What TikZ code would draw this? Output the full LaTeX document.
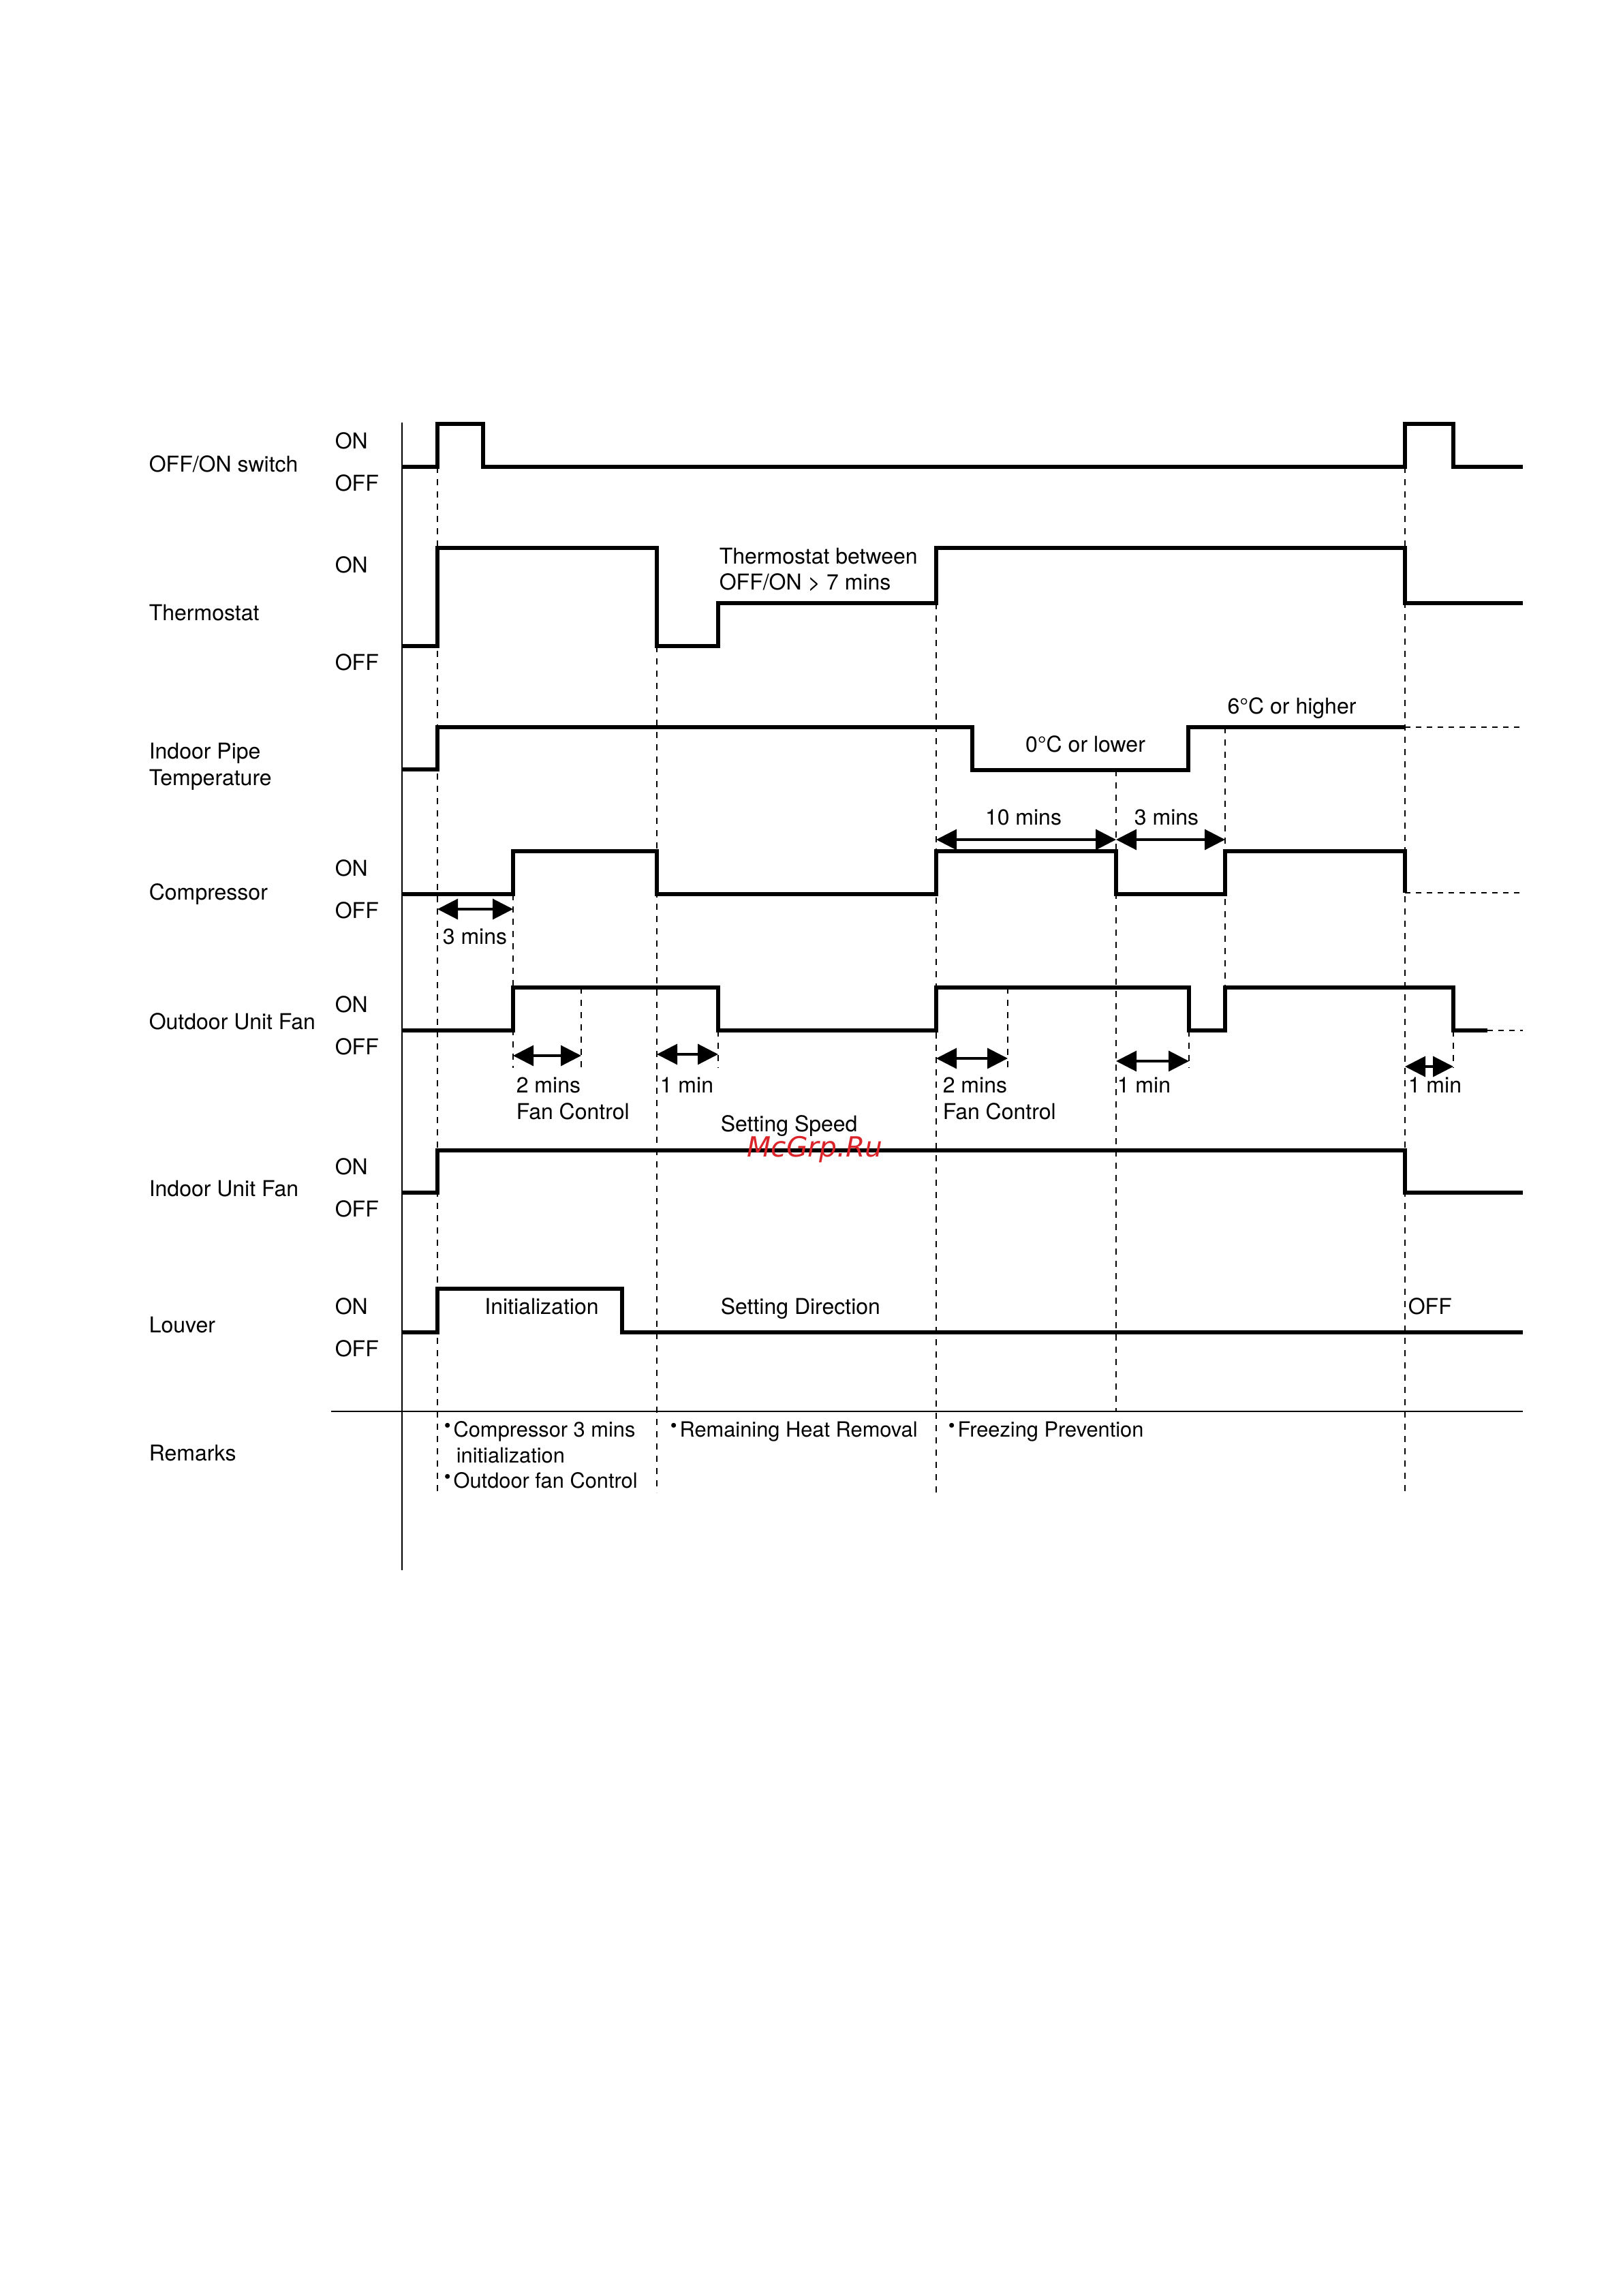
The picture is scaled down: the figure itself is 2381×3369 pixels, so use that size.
\documentclass[tikz,border=0pt]{standalone}
\usepackage{fontspec}
\setmainfont{TeX Gyre Heros}
\newfontfamily\markfont{DejaVu Sans}
\usepackage{tikz}
\usetikzlibrary{arrows.meta, positioning}
\definecolor{MarkRed}{RGB}{218,36,42}

\begin{document}
\begin{tikzpicture}[
    x=0.25pt, y=-0.25pt,
    every node/.style={font=\fontsize{8}{9.6}\selectfont, inner sep=0pt},
    rowlabel/.style={anchor=base west},
    onoff/.style={anchor=base west},
    note/.style={anchor=base west},
    remark/.style={anchor=base west, font=\fontsize{7.7}{9.2}\selectfont},
    sig/.style={line width=1.4pt},
    guide/.style={line width=0.4pt, dash pattern=on 2.2pt off 2.3pt},
    tailline/.style={line width=0.5pt, dash pattern=on 2pt off 2pt},
    dimarrow/.style={{Triangle[length=7.5pt, width=7.5pt]}-{Triangle[length=7.5pt, width=7.5pt]}, line width=0.8pt}
]
\useasboundingbox (0,0) rectangle (2381,3369);

% row labels
\node[rowlabel] (lswitch) at (218,692) {OFF/ON switch};
\node[rowlabel] (ltherm) at (218,910) {Thermostat};
\node[rowlabel] (lpipe) at (218,1113) {Indoor Pipe};
\node[rowlabel] (lpipeb) at (218,1152) {Temperature};
\node[rowlabel] (lcomp) at (218,1320) {Compressor};
\node[rowlabel] (lofan) at (218,1510) {Outdoor Unit Fan};
\node[rowlabel] (lifan) at (218,1755) {Indoor Unit Fan};
\node[rowlabel] (llouver) at (218,1955) {Louver};
\node[rowlabel] (lremarks) at (218,2143) {Remarks};

% ON / OFF levels
\foreach \n/\yon/\yoff in {sw/658/720, th/840/983, cp/1285/1347, of/1485/1547, if/1723/1785, lv/1928/1990} {
  \node[onoff] (on\n) at (491,\yon) {ON};
  \node[onoff] (off\n) at (491,\yoff) {OFF};
}

% axis and remarks rule
\draw[line width=0.6pt] (590,620) -- (590,2304);
\draw[line width=0.5pt] (486,2071) -- (2235,2071);

% guide lines
\foreach \x/\ya/\yb in {642/685/2190, 964/948/2190, 1374/885/2190, 1638/1130/2071,
                        1798/1067/1449, 2062/685/2190, 753/1312/1567, 853/1449/1567,
                        1054/1512/1567, 1479/1449/1567, 1745/1512/1567, 2133/1512/1567}
  \draw[guide] (\x,\ya) -- (\x,\yb);

% signals
\draw[sig] (590,685) -- (642,685) -- (642,622) -- (709,622) -- (709,685) -- (2062,685)
  -- (2062,622) -- (2133,622) -- (2133,685) -- (2235,685);
\draw[sig] (590,948) -- (642,948) -- (642,804) -- (964,804) -- (964,948) -- (1054,948)
  -- (1054,885) -- (1374,885) -- (1374,804) -- (2062,804) -- (2062,885) -- (2235,885);
\draw[sig] (590,1129) -- (642,1129) -- (642,1067) -- (1427,1067) -- (1427,1130)
  -- (1744,1130) -- (1744,1067) -- (2062,1067);
\draw[tailline] (2062,1067) -- (2235,1067);
\draw[sig] (590,1312) -- (753,1312) -- (753,1249) -- (964,1249) -- (964,1312) -- (1374,1312)
  -- (1374,1249) -- (1638,1249) -- (1638,1312) -- (1798,1312) -- (1798,1249) -- (2062,1249)
  -- (2062,1310);
\draw[tailline] (2062,1310) -- (2235,1310);
\draw[sig] (590,1512) -- (753,1512) -- (753,1449) -- (1054,1449) -- (1054,1512) -- (1374,1512)
  -- (1374,1449) -- (1745,1449) -- (1745,1512) -- (1798,1512) -- (1798,1449) -- (2133,1449)
  -- (2133,1512) -- (2183,1512);
\draw[tailline] (2183,1512) -- (2235,1512);
\draw[sig] (590,1750) -- (642,1750) -- (642,1688) -- (2062,1688) -- (2062,1750) -- (2235,1750);
\draw[sig] (590,1955) -- (642,1955) -- (642,1891) -- (913,1891) -- (913,1955) -- (2235,1955);

% time spans
\draw[dimarrow] (642,1334) -- (753,1334);
\draw[dimarrow] (1374,1232) -- (1638,1232);
\draw[dimarrow] (1638,1232) -- (1798,1232);
\draw[dimarrow] (753,1549) -- (853,1549);
\draw[dimarrow] (964,1547) -- (1054,1547);
\draw[dimarrow] (1374,1553) -- (1479,1553);
\draw[dimarrow] (1638,1557) -- (1745,1557);
\draw[dimarrow] (2062,1565) -- (2133,1565);

% texts on the chart
\node[note] (tdelay) at (1055,827) {Thermostat between};
\node[note] (tdelayb) at (1055,865) {OFF/ON > 7 mins};
\node[anchor=base] (tlow) at (1593,1103) {0°C or lower};
\node[anchor=base] (thigh) at (1896,1047) {6°C or higher};
\node[anchor=base] (dcomp) at (697,1385) {3 mins};
\node[anchor=base] (dfreeze) at (1502,1210) {10 mins};
\node[anchor=base] (drest) at (1712,1210) {3 mins};
\node[note] (dfan) at (757,1603) {2 mins};
\node[note] (dfanb) at (757,1642) {Fan Control};
\node[note] (dheat) at (968,1603) {1 min};
\node[note] (dfan2) at (1383,1603) {2 mins};
\node[note] (dfan2b) at (1383,1642) {Fan Control};
\node[note] (dstop) at (1639,1603) {1 min};
\node[note] (doff) at (2066,1603) {1 min};
\node[note] (tspeed) at (1057,1660) {Setting Speed};
\node[font=\markfont\itshape\fontsize{10.2}{12}\selectfont, text=MarkRed] (wmark) at (1196,1687) {McGrp.Ru};
\node[anchor=base] (tinit) at (795,1928) {Initialization};
\node[note] (tdir) at (1057,1928) {Setting Direction};
\node[note] (tloff) at (2066,1928) {OFF};

% remarks
\node[remark] (rcomp) at (651,2108) {{\scriptsize\raisebox{.45ex}{\textbullet}}\kern1pt Compressor 3 mins};
\node[remark] (rcompb) at (669,2146) {initialization};
\node[remark] (rfan) at (651,2183) {{\scriptsize\raisebox{.45ex}{\textbullet}}\kern1pt Outdoor fan Control};
\node[remark] (rheat) at (983,2108) {{\scriptsize\raisebox{.45ex}{\textbullet}}\kern1pt Remaining Heat Removal};
\node[remark] (rfreeze) at (1391,2108) {{\scriptsize\raisebox{.45ex}{\textbullet}}\kern1pt Freezing Prevention};
\end{tikzpicture}
\end{document}
